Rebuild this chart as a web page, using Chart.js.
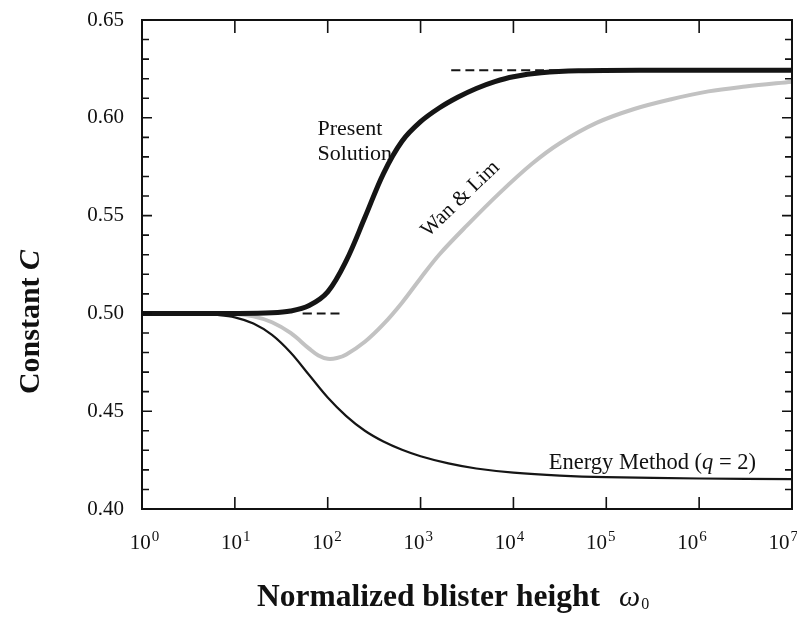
<!DOCTYPE html>
<html>
<head>
<meta charset="utf-8">
<script src="https://cdn.jsdelivr.net/npm/chart.js@4.4.1/dist/chart.umd.min.js"></script>
<style>
  body { margin: 0; background: #fff; }
  canvas { display: block; }
</style>
</head>
<body>
<canvas id="chart" width="797" height="619"></canvas>
<script>
// x values are log10(omega0)
var presentX = [0, 1.0, 1.4, 1.6, 1.8, 2.0, 2.2, 2.4, 2.6, 2.8, 3.0, 3.2, 3.4, 3.6, 3.8, 4.0, 4.3, 4.7, 5.5, 7.0];
var presentC = [0.500, 0.500, 0.5003, 0.5012, 0.504, 0.511, 0.527, 0.549, 0.5715, 0.588, 0.598, 0.605, 0.6105, 0.615, 0.6185, 0.621, 0.623, 0.624, 0.6243, 0.6243];

var wanLimX = [0, 1.0, 1.2, 1.4, 1.6, 1.8, 1.9, 2.0, 2.1, 2.2, 2.4, 2.6, 2.8, 3.0, 3.2, 3.5, 3.85, 4.2, 4.5, 4.9, 5.3, 5.7, 6.1, 6.5, 7.0];
var wanLimC = [0.500, 0.4997, 0.4985, 0.4955, 0.490, 0.482, 0.4785, 0.4768, 0.4772, 0.479, 0.4855, 0.4945, 0.5055, 0.518, 0.530, 0.545, 0.5615, 0.5765, 0.587, 0.5975, 0.6045, 0.6095, 0.6135, 0.616, 0.6185];

var energyX = [0, 0.6, 0.8, 1.0, 1.2, 1.4, 1.6, 1.8, 2.0, 2.2, 2.4, 2.6, 2.8, 3.0, 3.3, 3.6, 4.0, 4.5, 5.0, 6.0, 7.0];
var energyC = [0.500, 0.4999, 0.4993, 0.498, 0.4948, 0.489, 0.480, 0.4685, 0.457, 0.4475, 0.440, 0.4345, 0.4303, 0.427, 0.4233, 0.4207, 0.4186, 0.4171, 0.4163, 0.4156, 0.4153];

var dashLowX = [1.73, 2.18];
var dashLowC = [0.500, 0.500];
var dashHighX = [3.33, 4.5];
var dashHighC = [0.6243, 0.6243];

var xTickExp = ['0', '1', '2', '3', '4', '5', '6', '7'];
var yMin = 0.40, yMax = 0.65, yMajorStep = 0.05, yMinorStep = 0.01;

var serif = '"Liberation Serif", "Times New Roman", serif';

function pts(xs, ys) {
    var out = [];
    for (var i = 0; i < xs.length; i++) out.push({x: xs[i], y: ys[i]});
    return out;
}

// frame, inward ticks, x tick labels with superscripts, annotations, axis titles
var decor = {
    id: 'decor',
    afterDraw: function (chart) {
	var ctx = chart.ctx;
	var a = chart.chartArea;
	var xs = chart.scales.x, ys = chart.scales.y;
	ctx.save();
	ctx.strokeStyle = '#111';
	ctx.lineWidth = 2;
	ctx.strokeRect(a.left, a.top, a.right - a.left, a.bottom - a.top);

	ctx.lineWidth = 1.6;
	ctx.beginPath();
	for (var k = 0; k < xTickExp.length; k++) {
	    var px = xs.getPixelForValue(k);
	    ctx.moveTo(px, a.bottom); ctx.lineTo(px, a.bottom - 12);
	    ctx.moveTo(px, a.top); ctx.lineTo(px, a.top + 13);
	}
	var n = Math.round((yMax - yMin) / yMinorStep);
	for (var j = 0; j <= n; j++) {
	    var py = ys.getPixelForValue(yMin + j * yMinorStep);
	    var len = (j % 5 === 0) ? 10 : 7;
	    ctx.moveTo(a.left, py); ctx.lineTo(a.left + len, py);
	    ctx.moveTo(a.right, py); ctx.lineTo(a.right - len, py);
	}
	ctx.stroke();

	ctx.fillStyle = '#111';
	ctx.textBaseline = 'alphabetic';
	ctx.textAlign = 'left';

	// x tick labels: 10^n (labels drift slightly left of their ticks in the original)
	for (var m = 0; m < xTickExp.length; m++) {
	    ctx.font = '21px ' + serif;
	    var bw = ctx.measureText('10').width;
	    ctx.font = '15px ' + serif;
	    var ew = ctx.measureText(xTickExp[m]).width;
	    var lx0 = xs.getPixelForValue(m) + 2 - 1.6 * m - (bw + ew) / 2;
	    ctx.font = '21px ' + serif;
	    ctx.fillText('10', lx0, a.bottom + 40);
	    ctx.font = '15px ' + serif;
	    ctx.fillText(xTickExp[m], lx0 + bw + 1, a.bottom + 32);
	}

	ctx.font = '22px ' + serif;
	var lx = xs.getPixelForValue(1.89);
	ctx.fillText('Present', lx, ys.getPixelForValue(0.591));
	ctx.fillText('Solution', lx, ys.getPixelForValue(0.5785));

	// Energy Method (q = 2)
	ctx.font = '22.5px ' + serif;
	var ex = xs.getPixelForValue(4.38);
	var ey = ys.getPixelForValue(0.4202);
	var s1 = 'Energy Method (';
	ctx.fillText(s1, ex, ey);
	ex += ctx.measureText(s1).width;
	ctx.font = 'italic 22.5px ' + serif;
	ctx.fillText('q', ex, ey);
	ex += ctx.measureText('q').width;
	ctx.font = '22.5px ' + serif;
	ctx.fillText(' = 2)', ex, ey);

	// Wan & Lim, rotated along the curve
	ctx.save();
	ctx.translate(xs.getPixelForValue(3.43), ys.getPixelForValue(0.5585));
	ctx.rotate(-Math.PI / 4.1);
	ctx.textAlign = 'center';
	ctx.textBaseline = 'middle';
	ctx.font = '21px ' + serif;
	ctx.fillText('Wan & Lim', 0, 0);
	ctx.restore();

	// x axis title
	ctx.font = 'bold 31.5px ' + serif;
	var t1 = 'Normalized blister height';
	var tx = a.left + 115, ty = 606;
	ctx.fillText(t1, tx, ty);
	tx += ctx.measureText(t1).width + 19;
	ctx.font = 'italic 30px ' + serif;
	ctx.fillText('\u03c9', tx, ty);
	tx += ctx.measureText('\u03c9').width + 1;
	ctx.font = '16px ' + serif;
	ctx.fillText('0', tx, ty + 3);

	// y axis title
	ctx.save();
	ctx.translate(39, 322);
	ctx.rotate(-Math.PI / 2);
	ctx.font = 'bold 30px ' + serif;
	var t2 = 'Constant ';
	var w2 = ctx.measureText(t2).width;
	ctx.font = 'bold italic 30px ' + serif;
	var w3 = ctx.measureText('C').width;
	var sx = -(w2 + w3) / 2;
	ctx.font = 'bold 30px ' + serif;
	ctx.fillText(t2, sx, 0);
	ctx.font = 'bold italic 30px ' + serif;
	ctx.fillText('C', sx + w2, 0);
	ctx.restore();

	ctx.restore();
    }
};

var ctx = document.getElementById('chart').getContext('2d');
var chart = new Chart(ctx, {
    type: 'line',
    data: {
	datasets: [{
	    label: 'Present Solution',
	    data: pts(presentX, presentC),
	    borderColor: '#151515',
	    borderWidth: 5
	}, {
	    label: 'Energy Method (q = 2)',
	    data: pts(energyX, energyC),
	    borderColor: '#151515',
	    borderWidth: 2.2
	}, {
	    label: 'Present limit low',
	    data: pts(dashLowX, dashLowC),
	    borderColor: '#151515',
	    borderWidth: 2,
	    borderDash: [9, 5]
	}, {
	    label: 'Present limit high',
	    data: pts(dashHighX, dashHighC),
	    borderColor: '#151515',
	    borderWidth: 2,
	    borderDash: [9, 5]
	}, {
	    label: 'Wan & Lim',
	    data: pts(wanLimX, wanLimC),
	    borderColor: '#c2c2c2',
	    borderWidth: 4
	}]
    },
    options: {
	responsive: false,
	animation: false,
	devicePixelRatio: 1,
	layout: {
	    padding: { top: 20, right: 5, left: 0, bottom: 0 }
	},
	elements: {
	    point: { radius: 0 },
	    line: { tension: 0.35, capBezierPoints: true }
	},
	plugins: {
	    legend: { display: false },
	    tooltip: { enabled: false }
	},
	scales: {
	    x: {
		type: 'linear',
		min: 0,
		max: 7,
		grid: { display: false, drawTicks: false },
		border: { display: false },
		ticks: { display: false, stepSize: 1 },
		afterFit: function (scale) {
		    scale.height = 110;
		    scale.paddingLeft = 0;
		    scale.paddingRight = 0;
		}
	    },
	    y: {
		type: 'linear',
		min: yMin,
		max: yMax,
		grid: { display: false, drawTicks: false },
		border: { display: false },
		ticks: {
		    stepSize: yMajorStep,
		    padding: 18,
		    color: '#111',
		    font: { family: serif, size: 21 },
		    callback: function (v) { return v.toFixed(2); }
		},
		afterFit: function (scale) {
		    scale.width = 142;
		    scale.paddingTop = 0;
		    scale.paddingBottom = 0;
		}
	    }
	}
    },
    plugins: [decor]
});
</script>
</body>
</html>
